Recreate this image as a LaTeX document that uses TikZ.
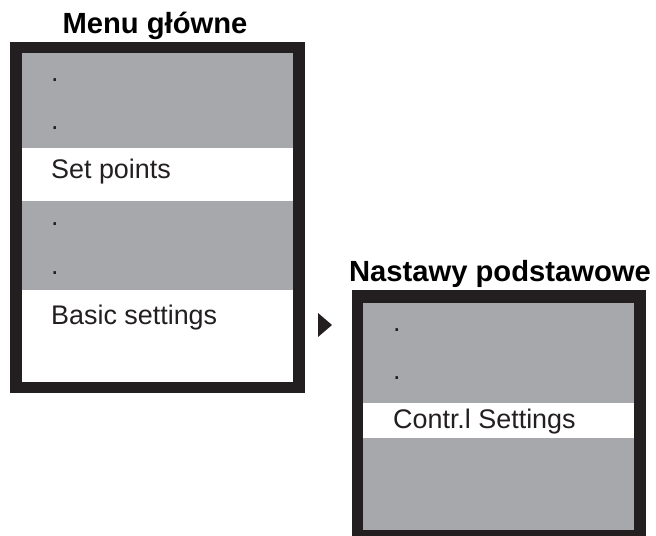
\documentclass[tikz,border=0pt]{standalone}
\usepackage{fontspec}
\setmainfont{Liberation Sans}

\definecolor{rowgray}{RGB}{167,168,171}
\definecolor{bezel}{RGB}{35,31,32}

\tikzset{
  item/.style={anchor=base west,inner sep=0pt,text=bezel,font=\fontsize{27}{31}\selectfont},
  heading/.style={anchor=base,inner sep=0pt,font=\bfseries\fontsize{29.3}{34}\selectfont},
}

\begin{document}
\begin{tikzpicture}[x=1bp,y=-1bp]
  \useasboundingbox (0,0) rectangle (656,536);

  % Main menu screen
  \fill[bezel] (10,42) rectangle (305,393);
  \fill[rowgray] (22,53) rectangle (293,148);
  \fill[white] (22,148) rectangle (293,201);
  \fill[rowgray] (22,201) rectangle (293,290);
  \fill[white] (22,290) rectangle (293,382);

  \node[heading] (mainttl) at (155,34) {Menu główne};
  \node[item] (mdot1) at (51,82) {.};
  \node[item] (mdot2) at (51,130) {.};
  \node[item] (setpts) at (51,179) {Set points};
  \node[item] (mdot3) at (51,226) {.};
  \node[item] (mdot4) at (51,274) {.};
  \node[item] (basic) at (51,324) {Basic settings};

  % Marker pointing into the submenu
  \fill[bezel] (318,313) -- (332,325) -- (318,337) -- cycle;

  % Submenu screen
  \fill[bezel] (352,290) rectangle (646,536);
  \fill[rowgray] (363,303) rectangle (634,530);
  \fill[white] (363,403) rectangle (634,438);

  \node[heading] (subttl) at (500,281) {Nastawy podstawowe};
  \node[item] (sdot1) at (393,331) {.};
  \node[item] (sdot2) at (393,379) {.};
  \node[item] (contr) at (393,428) {Contr.l Settings};
\end{tikzpicture}
\end{document}
